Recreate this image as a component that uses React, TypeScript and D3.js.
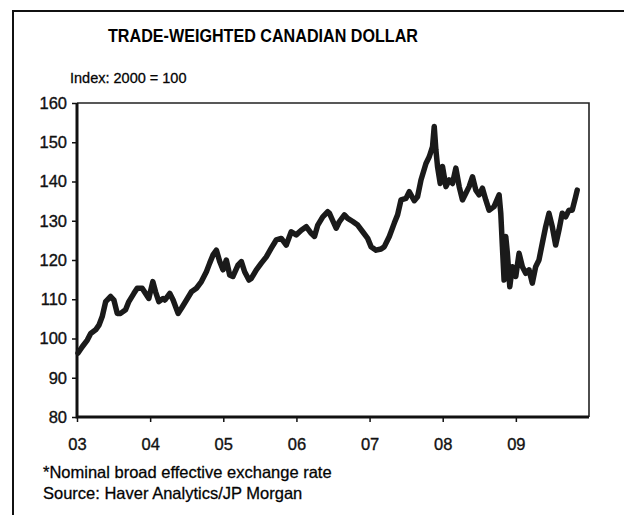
import React, { useEffect, useRef } from "react";
import * as d3 from "d3";

// trade-weighted CAD, index 2000 = 100 (fractional years)
const dates = [
  2003.014, 2003.072, 2003.141, 2003.187, 2003.255, 2003.3, 2003.345, 2003.392, 2003.46, 2003.505,
  2003.55, 2003.596, 2003.664, 2003.709, 2003.778, 2003.823, 2003.891, 2003.937, 2003.982, 2004.037,
  2004.074, 2004.119, 2004.177, 2004.201, 2004.269, 2004.314, 2004.382, 2004.428, 2004.497, 2004.565,
  2004.633, 2004.701, 2004.769, 2004.814, 2004.86, 2004.906, 2004.951, 2004.996, 2005.042, 2005.087,
  2005.132, 2005.201, 2005.247, 2005.292, 2005.351, 2005.383, 2005.452, 2005.52, 2005.588, 2005.656,
  2005.724, 2005.793, 2005.861, 2005.929, 2005.997, 2006.066, 2006.134, 2006.202, 2006.247, 2006.292,
  2006.36, 2006.428, 2006.452, 2006.497, 2006.543, 2006.588, 2006.656, 2006.701, 2006.77, 2006.838,
  2006.906, 2006.974, 2007.02, 2007.089, 2007.157, 2007.202, 2007.27, 2007.338, 2007.383, 2007.43,
  2007.498, 2007.543, 2007.611, 2007.656, 2007.703, 2007.771, 2007.816, 2007.861, 2007.884, 2007.907,
  2007.929, 2007.966, 2007.997, 2008.044, 2008.089, 2008.134, 2008.18, 2008.225, 2008.27, 2008.316,
  2008.361, 2008.407, 2008.453, 2008.498, 2008.543, 2008.589, 2008.634, 2008.702, 2008.771, 2008.794,
  2008.816, 2008.839, 2008.862, 2008.884, 2008.917, 2008.952, 2008.999, 2009.044, 2009.089, 2009.135,
  2009.18, 2009.225, 2009.271, 2009.316, 2009.362, 2009.408, 2009.453, 2009.498, 2009.544, 2009.589,
  2009.634, 2009.681, 2009.726, 2009.771, 2009.817, 2009.839,
];
const values = [
  96.3, 97.9, 99.6, 101.3, 102.2, 103.4, 105.6, 109.4, 110.7, 109.8,
  106.4, 106.4, 107.3, 109.4, 111.5, 112.8, 112.8, 111.5, 110.2, 114.5,
  111.9, 109.4, 110.2, 109.8, 111.5, 109.8, 106.4, 107.7, 109.8, 111.9,
  112.8, 114.5, 117.0, 119.2, 121.3, 122.5, 119.6, 117.5, 120.0, 116.2,
  115.8, 118.7, 119.6, 117.0, 114.9, 115.3, 117.5, 119.2, 120.8, 123.0,
  125.1, 125.5, 123.8, 127.2, 126.4, 127.6, 128.5, 126.8, 126.0, 128.9,
  131.0, 132.3, 131.9, 130.0, 128.1, 129.8, 131.5, 130.6, 129.8, 128.9,
  127.2, 125.5, 123.4, 122.5, 122.8, 123.4, 126.0, 129.4, 131.5, 135.3,
  135.7, 137.4, 135.1, 136.1, 140.4, 144.6, 146.3, 148.9, 154.0, 148.0,
  143.8, 139.5, 143.8, 138.7, 140.4, 139.5, 143.4, 138.7, 135.3, 137.0,
  138.7, 141.2, 137.8, 136.6, 138.3, 135.3, 132.7, 133.6, 136.6, 131.9,
  123.4, 114.9, 126.0, 121.7, 113.2, 118.3, 115.8, 121.7, 118.3, 116.6,
  117.5, 114.1, 118.3, 120.0, 124.3, 128.5, 131.9, 128.5, 123.8, 127.6,
  131.9, 131.0, 132.7, 132.7, 136.1, 137.8,
];
const yTicks = [80, 90, 100, 110, 120, 130, 140, 150, 160];
const xTicks = [2003, 2004, 2005, 2006, 2007, 2008, 2009];
const xLabels = ["03", "04", "05", "06", "07", "08", "09"];

const FONT = "'Liberation Sans', Arial, Helvetica, sans-serif";

export default function App() {
  const svgRef = useRef<SVGSVGElement>(null);

  useEffect(() => {
    const width = 624;
    const height = 515;
    const svg = d3.select(svgRef.current).attr("width", width).attr("height", height);
    svg.selectAll("*").remove();

    const x = d3.scaleLinear().domain([2003, 2010]).range([77, 589]);
    const y = d3.scaleLinear().domain([80, 160]).range([417, 103]);

    // outer frame (left + top only visible)
    svg.append("path")
      .attr("d", `M13,${height} L13,11 L${width},11`)
      .attr("fill", "none")
      .attr("stroke", "#111")
      .attr("stroke-width", 2);

    svg.append("text")
      .attr("x", 263)
      .attr("y", 42)
      .attr("text-anchor", "middle")
      .attr("font-family", FONT)
      .attr("font-weight", "bold")
      .attr("font-size", 18)
      .attr("textLength", 310)
      .attr("lengthAdjust", "spacingAndGlyphs")
      .text("TRADE-WEIGHTED CANADIAN DOLLAR");

    svg.append("text")
      .attr("x", 70)
      .attr("y", 83)
      .attr("font-family", FONT)
      .attr("font-size", 14.5)
      .attr("stroke", "#111")
      .attr("stroke-width", 0.3)
      .text("Index: 2000 = 100");

    const [x0, x1] = x.range();
    const [yb, yt] = y.range();

    // thin top/right sides of the plot box
    svg.append("path")
      .attr("d", `M${x0},${yt} L${x1},${yt} L${x1},${yb}`)
      .attr("fill", "none")
      .attr("stroke", "#222")
      .attr("stroke-width", 1.6);

    const yAxis = svg.append("g")
      .attr("transform", `translate(${x0},0)`)
      .call(d3.axisLeft(y).tickValues(yTicks).tickSize(5).tickPadding(5).tickFormat(d3.format("d")));
    yAxis.select(".domain").remove();
    yAxis.selectAll("line").attr("stroke", "#111").attr("stroke-width", 1.5);
    yAxis.selectAll("text")
      .attr("font-family", FONT)
      .attr("font-size", 16.5)
      .attr("fill", "#111")
      .attr("stroke", "#111")
      .attr("stroke-width", 0.35);

    const xAxis = svg.append("g")
      .attr("transform", `translate(0,${yb})`)
      .call(d3.axisBottom(x).tickValues(xTicks).tickSize(5).tickPadding(16)
        .tickFormat((d, i) => xLabels[i]));
    xAxis.select(".domain").remove();
    xAxis.selectAll("line").attr("stroke", "#111").attr("stroke-width", 1.5);
    xAxis.selectAll("text")
      .attr("font-family", FONT)
      .attr("font-size", 16.5)
      .attr("fill", "#111")
      .attr("stroke", "#111")
      .attr("stroke-width", 0.35);

    // heavy left & bottom axis lines
    svg.append("path")
      .attr("d", `M${x0},${yt} L${x0},${yb} L${x1},${yb}`)
      .attr("fill", "none")
      .attr("stroke", "#111")
      .attr("stroke-width", 3);

    const pts = dates.map((d, i) => [d, values[i]] as [number, number]);
    svg.append("path")
      .datum(pts)
      .attr("fill", "none")
      .attr("stroke", "#1a1a1a")
      .attr("stroke-width", 5.5)
      .attr("stroke-linejoin", "round")
      .attr("stroke-linecap", "round")
      .attr("d", d3.line<[number, number]>().x(d => x(d[0])).y(d => y(d[1])));

    svg.append("text")
      .attr("x", 43)
      .attr("y", 478)
      .attr("font-family", FONT)
      .attr("font-size", 16.5)
      .attr("stroke", "#111")
      .attr("stroke-width", 0.3)
      .text("*Nominal broad effective exchange rate");

    svg.append("text")
      .attr("x", 43)
      .attr("y", 499)
      .attr("font-family", FONT)
      .attr("font-size", 16.5)
      .attr("stroke", "#111")
      .attr("stroke-width", 0.3)
      .text("Source: Haver Analytics/JP Morgan");
  }, []);

  return (
    <svg
      ref={svgRef}
      style={{ position: "absolute", left: 0, top: 0, background: "#fff" }}
    />
  );
}
